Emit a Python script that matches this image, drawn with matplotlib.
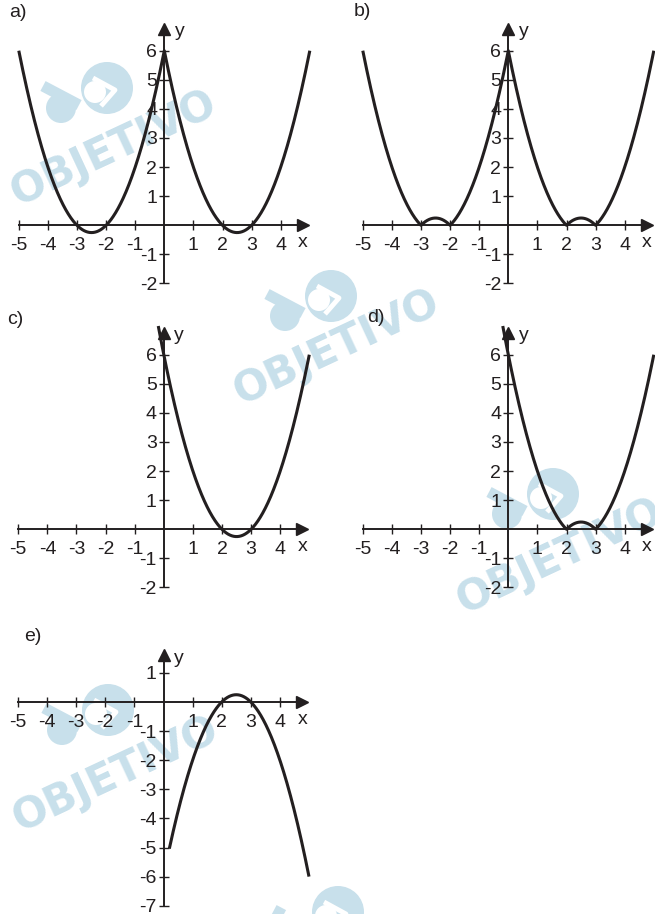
import numpy as np
import matplotlib
matplotlib.use("Agg")
import matplotlib.pyplot as plt
from matplotlib.patches import Circle

plt.rcParams["font.family"] = ["Liberation Sans", "DejaVu Sans"]

# ---- figure geometry (pixels) ----
W, H = 655, 914
UNIT = 29.1                      # pixels per axis unit
INK = "#231f20"
MARK = "#c8e0eb"
FS = 14

# ---- data ----
quad_coeffs = [1, -5, 6]         # x^2 - 5x + 6
panel_labels = ["a)", "b)", "c)", "d)", "e)"]
curve_kinds = ["even", "abs_even", "plain", "abs_plain", "neg"]
x_start = [-5, -5, -0.19, -0.19, 0.2]
x_end = [5, 5, 5, 5, 5]
x_ticks = [-5, -4, -3, -2, -1, 1, 2, 3, 4]
y_ticks_up = [-2, -1, 1, 2, 3, 4, 5, 6]
y_ticks_down = [-7, -6, -5, -4, -3, -2, -1, 1]

# origin of each coordinate system (pixels from top-left) and label spots
origins = [(164.3, 225.3), (508.3, 225.3), (163.8, 529.3), (508.3, 529.3), (163.5, 702.0)]
label_pos = [(9, 4), (354, 3), (7, 311), (367, 309), (24, 628)]


def evaluate(kind, x):
    p = np.polyval(quad_coeffs, np.abs(x) if "even" in kind else x)
    if kind.startswith("abs"):
        p = np.abs(p)
    if kind == "neg":
        p = -p
    return p


fig = plt.figure(figsize=(W / 100, H / 100), dpi=100)

# ---- background layer in pixel coordinates (watermarks, panel letters) ----
bg = fig.add_axes([0, 0, 1, 1], zorder=0)
bg.set_xlim(0, W)
bg.set_ylim(H, 0)
bg.axis("off")


def watermark(tx, ty, lx, ly, show_text=True):
    bg.add_patch(Circle((lx, ly), 26, color=MARK, lw=0))
    bg.add_patch(Circle((lx - 12, ly + 4), 11, color="white", lw=0))
    bg.plot([lx - 14, lx + 8, lx - 6], [ly - 10, ly + 2, ly + 18], color="white", lw=3.5,
            solid_capstyle="butt")
    bg.add_patch(Circle((lx - 46, ly + 20), 15, color=MARK, lw=0))
    bg.plot([lx - 64, lx - 28], [ly - 2, ly + 17], color=MARK, lw=8, solid_capstyle="butt")
    if show_text:
        bg.text(tx, ty, "OBJETIVO", rotation=25, color=MARK, fontsize=30,
                fontweight="heavy", family="DejaVu Sans", ha="center",
                va="center", rotation_mode="anchor")


watermark(114, 148, 107, 88)
watermark(337, 347, 331, 296)
watermark(560, 556, 553, 494)
watermark(116, 774, 108, 710)
watermark(0, 0, 338, 912, show_text=False)

for (lx, ly), lab in zip(label_pos, panel_labels):
    bg.text(lx, ly, lab, fontsize=FS, color=INK, ha="left", va="top")

# ---- the five graphs ----
for i in range(5):
    ox, oy = origins[i]
    lower = curve_kinds[i] == "neg"
    x0, x1 = -5.6, 5.6
    y0, y1 = (-7.4, 2.3) if lower else (-2.4, 7.3)
    left = ox + x0 * UNIT
    top = oy - y1 * UNIT
    wpx = (x1 - x0) * UNIT
    hpx = (y1 - y0) * UNIT
    ax = fig.add_axes([left / W, 1 - (top + hpx) / H, wpx / W, hpx / H], zorder=2)
    ax.set_facecolor("none")
    ax.set_xlim(x0, x1)
    ax.set_ylim(y0, y1)

    # axes through the origin with arrowheads
    y_lo = -7 if lower else -2
    y_tip = 1.8 if lower else 6.95
    for side in ("top", "right"):
        ax.spines[side].set_visible(False)
    ax.spines["left"].set_position(("data", 0))
    ax.spines["bottom"].set_position(("data", 0))
    ax.spines["bottom"].set_bounds(-5, 4.6)
    ax.spines["left"].set_bounds(y_lo, y_tip - 0.35)
    for side in ("left", "bottom"):
        ax.spines[side].set_linewidth(1.4)
        ax.spines[side].set_color(INK)
    ax.plot(4.75, 0, marker=">", ms=8.5, color=INK, clip_on=False, zorder=3)
    ax.plot(0, y_tip - 0.2, marker="^", ms=8.5, color=INK, clip_on=False, zorder=3)

    ax.set_xticks(x_ticks)
    ax.set_xticklabels([str(t) for t in x_ticks])
    yt = y_ticks_down if lower else y_ticks_up
    ax.set_yticks(yt)
    ax.set_yticklabels([str(t) for t in yt])
    ax.tick_params(axis="both", direction="inout", length=7.2, width=1.0, color=INK,
                   labelsize=FS, labelcolor=INK)
    ax.tick_params(axis="x", pad=4.8)
    ax.tick_params(axis="y", pad=1.5)

    ax.text(0.36, y_tip - 0.3, "y", fontsize=FS, color=INK, ha="left", va="center")
    ax.text(4.77, -0.6, "x", fontsize=FS, color=INK, ha="center", va="center")

    xs = np.linspace(x_start[i], x_end[i], 801)
    ax.plot(xs, evaluate(curve_kinds[i], xs), color=INK, lw=2.2, clip_on=False,
            solid_capstyle="butt", zorder=4)

fig.savefig("out.png", dpi=100)
